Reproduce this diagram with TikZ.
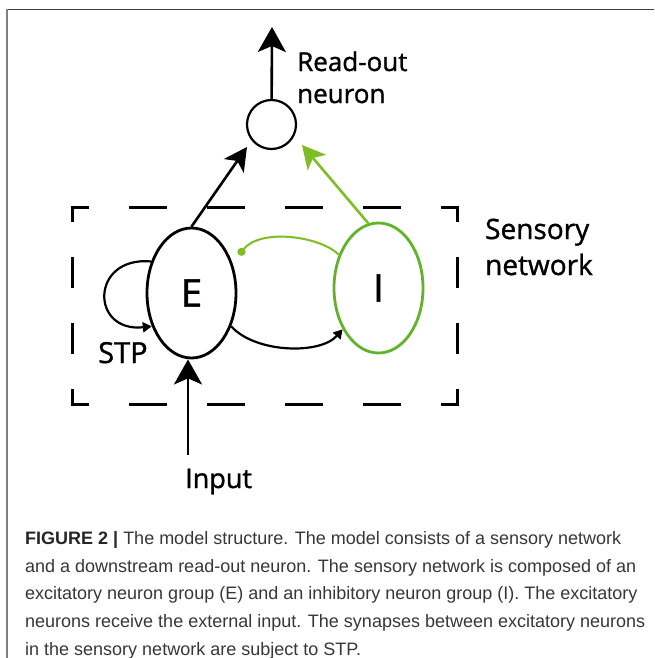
\documentclass[tikz,border=0pt]{standalone}
\usepackage{fontspec}
\setmainfont{Open Sans}
\newfontfamily\lblfont{Open Sans}[FakeBold=1.2]
\newfontfamily\capfont{Liberation Sans}
\usetikzlibrary{arrows.meta,shapes.geometric}
\definecolor{garrow}{RGB}{126,190,36}
\definecolor{gell}{RGB}{98,178,42}
\definecolor{captxt}{RGB}{55,55,55}
\tikzset{
  neuron/.style={draw, ellipse, line width=2.8pt, minimum width=89pt, minimum height=130pt, inner sep=0pt, font=\lblfont\fontsize{38}{38}\selectfont},
  readout/.style={draw, circle, line width=2.2pt, minimum size=49pt, inner sep=0pt},
  bigarrow/.style={line width=2.6pt, -{Stealth[length=25pt,width=28pt,inset=6pt]}},
  midarrow/.style={line width=2.6pt, -{Stealth[length=23pt,width=24pt,inset=6pt]}},
  hdash/.style={line width=3pt, dash pattern=on 38pt off 40pt, dash phase=19.5pt},
  vdash/.style={line width=3pt, dash pattern=on 31pt off 35pt, dash phase=14.5pt},
  lbl/.style={inner sep=0pt, anchor=base west, align=left},
}
\begin{document}
\begin{tikzpicture}[x=1pt,y=-1pt]
\useasboundingbox (0,0) rectangle (654,658);
\fill[white] (0,0) rectangle (654,658);
% frame
\draw[line width=1.6pt, black!75] (6.5,9.5) -- (654,9.5);
\draw[line width=1.2pt, black!50] (7,9.5) -- (7,658);

% dashed sensory box
\draw[hdash] (70.5,207) -- (458.5,207);
\draw[hdash] (70.5,404) -- (458.5,404);
\draw[vdash] (72,205.5) -- (72,405.5);
\draw[vdash] (457,205.5) -- (457,405.5);

% neurons
\node[readout] (R) at (271.5,124.5) {};
\node[neuron] (E) at (191.5,293) {E};
\node[neuron, draw=gell] (I) at (378.5,288) {I};

% coordinates
\coordinate (out) at (272,27);
\coordinate (rE) at (247,147);
\coordinate (rI) at (302,145);
\coordinate (inp) at (188,455);
\coordinate (dotE) at (239,255);

% connectors
\draw[bigarrow] (R) -- (out);
\draw[midarrow] (E.north) -- (rE);
\draw[midarrow, color=garrow] (I.99) -- (rI);
\draw[bigarrow] (inp) -- (E.south -| inp);
\draw[line width=2pt, color=garrow, -{Circle[length=8pt]}]
  (I.140) .. controls (320,236) and (260,228) .. (dotE);
\draw[line width=2.2pt, -{Triangle[length=9pt,width=10pt]}]
  (E.-40) .. controls (255,353) and (320,355) .. (I.229);
\draw[line width=2.2pt, -{Triangle[length=9pt,width=10pt]}]
  (E.142) .. controls (90,256) and (90,333) .. (E.220);

% labels (base anchor = last line's baseline)
\node[lbl, font=\lblfont\fontsize{26}{32}\selectfont] (lro) at (297,103) {Read-out\\neuron};
\node[lbl, font=\lblfont\fontsize{28}{36}\selectfont] (lsn) at (485,275) {Sensory\\network};
\node[lbl, font=\lblfont\fontsize{29}{29}\selectfont] (lstp) at (98,363) {STP};
\node[lbl, font=\lblfont\fontsize{27}{27}\selectfont] (linp) at (185,488) {Input};

% caption
\node[inner sep=0pt, anchor=north west, align=left, text=captxt,
      font=\capfont\fontsize{18}{27.8}\selectfont] (cap) at (25,531)
{{\color{black!85}\bfseries FIGURE 2 |} The model structure. The model consists of a sensory network\\
and a downstream read-out neuron. The sensory network is composed of an\\
excitatory neuron group (E) and an inhibitory neuron group (I). The excitatory\\
neurons receive the external input. The synapses between excitatory neurons\\
in the sensory network are subject to STP.};
\end{tikzpicture}
\end{document}
